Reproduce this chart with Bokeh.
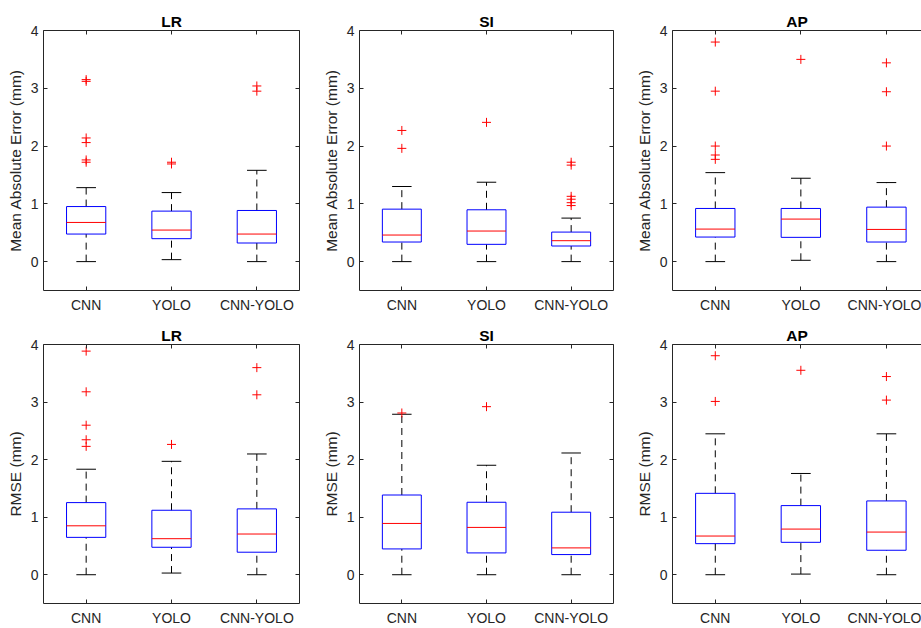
from bokeh.plotting import figure
from bokeh.layouts import column, row
from bokeh.models import FixedTicker, LinearAxis, Range1d, ColumnDataSource
from bokeh.embed import file_html
from bokeh.resources import INLINE

# ---------------- data ----------------
methods = ["CNN", "YOLO", "CNN-YOLO"]
views = ["LR", "SI", "AP"]
metric_labels = ["Mean Absolute Error (mm)", "RMSE (mm)"]
y_ticks = [0, 1, 2, 3, 4]

# Mean absolute error, rows = views (LR, SI, AP), columns = methods
mae_q1 = [[0.477, 0.397, 0.322], [0.339, 0.299, 0.270], [0.425, 0.420, 0.339]]
mae_med = [[0.678, 0.546, 0.477], [0.460, 0.529, 0.362], [0.563, 0.736, 0.557]]
mae_q3 = [[0.953, 0.874, 0.885], [0.908, 0.897, 0.511], [0.920, 0.920, 0.943]]
mae_lo = [[0.000, 0.034, 0.000], [0.000, 0.000, 0.000], [0.000, 0.023, 0.000]]
mae_hi = [[1.280, 1.195, 1.580], [1.300, 1.374, 0.753], [1.540, 1.443, 1.368]]
mae_out = [
    [[3.15, 3.12, 2.14, 2.06, 1.76, 1.72], [1.72, 1.69], [3.04, 2.95]],
    [[2.27, 1.96], [2.41], [1.72, 1.67, 1.13, 1.08, 1.02, 0.97]],
    [[3.80, 2.95, 2.00, 1.845, 1.77], [3.50], [3.44, 2.94, 2.00]],
]

# RMSE
rmse_q1 = [[0.649, 0.477, 0.391], [0.448, 0.379, 0.350], [0.540, 0.563, 0.425]]
rmse_med = [[0.850, 0.626, 0.707], [0.891, 0.822, 0.466], [0.672, 0.793, 0.741]]
rmse_q3 = [[1.253, 1.120, 1.144], [1.385, 1.259, 1.086], [1.414, 1.201, 1.282]]
rmse_lo = [[0.000, 0.029, 0.000], [0.000, 0.000, 0.000], [0.000, 0.011, 0.000]]
rmse_hi = [[1.833, 1.970, 2.098], [2.788, 1.902, 2.115], [2.448, 1.759, 2.448]]
rmse_out = [
    [[3.885, 3.178, 2.598, 2.345, 2.23], [2.264], [3.598, 3.126]],
    [[2.81], [2.92], []],
    [[3.805, 3.011], [3.552], [3.443, 3.034]],
]

metrics = [
    (mae_q1, mae_med, mae_q3, mae_lo, mae_hi, mae_out),
    (rmse_q1, rmse_med, rmse_q3, rmse_lo, rmse_hi, rmse_out),
]

# ---------------- layout / style ----------------
FONT = "Liberation Sans"
AX = "#262626"
BOX_W = 0.46
CAP_W = 0.23
positions = [1, 2, 3]

col_w = [302, 330, 289]
col_bl = [43, 57, 40]
col_br = [3, 19, 0]
col_xend = [3.5, 3.5, 3.41]
row_h = [316, 312]
row_bt = [30, 28]
row_bb = [26, 23]


def style_axis(ax, labels=True):
    ax.axis_line_color = AX
    ax.axis_line_width = 1
    ax.major_tick_line_color = AX
    ax.major_tick_in = 4
    ax.major_tick_out = 0
    ax.minor_tick_in = 0
    ax.minor_tick_out = 0
    ax.major_label_text_font = FONT
    ax.major_label_text_font_size = "14px"
    if labels:
        ax.major_label_text_color = AX
    else:
        ax.major_label_text_color = None
        ax.major_label_standoff = 0


def make_panel(ri, ci):
    q1, med, q3, lo, hi, out = metrics[ri]
    p = figure(
        width=col_w[ci], height=row_h[ri],
        x_range=Range1d(0.5, col_xend[ci]), y_range=Range1d(-0.5, 4),
        output_backend="svg", toolbar_location=None,
        min_border_left=col_bl[ci], min_border_right=col_br[ci],
        min_border_top=row_bt[ri], min_border_bottom=row_bb[ri],
    )
    p.outline_line_color = None
    p.grid.visible = False
    p.background_fill_color = "white"
    p.border_fill_color = "white"

    p.title.text = views[ci]
    p.title.align = "center"
    p.title.text_font = FONT
    p.title.text_font_style = "bold"
    p.title.text_font_size = "15.5px"
    p.title.text_color = "black"
    p.title.standoff = 1

    yax = p.yaxis[0]
    yax.ticker = FixedTicker(ticks=y_ticks)
    style_axis(yax)
    yax.major_label_standoff = 5
    yax.axis_label = metric_labels[ri]
    yax.axis_label_text_font = FONT
    yax.axis_label_text_font_style = "normal"
    yax.axis_label_text_font_size = "15.5px"
    yax.axis_label_text_color = AX
    yax.axis_label_standoff = 4

    xax = p.xaxis[0]
    xax.ticker = FixedTicker(ticks=positions)
    xax.major_label_overrides = {pos: m for pos, m in zip(positions, methods)}
    style_axis(xax)
    xax.major_label_standoff = 6

    top = LinearAxis(ticker=FixedTicker(ticks=positions))
    style_axis(top, labels=False)
    p.add_layout(top, "above")
    if ci < 2:
        right = LinearAxis(ticker=FixedTicker(ticks=y_ticks))
        style_axis(right, labels=False)
        p.add_layout(right, "right")

    src = ColumnDataSource(dict(
        x=positions,
        left=[x - BOX_W / 2 for x in positions],
        right=[x + BOX_W / 2 for x in positions],
        cl=[x - CAP_W / 2 for x in positions],
        cr=[x + CAP_W / 2 for x in positions],
        q1=q1[ci], med=med[ci], q3=q3[ci], lo=lo[ci], hi=hi[ci],
    ))
    # whiskers
    p.segment(x0="x", y0="q3", x1="x", y1="hi", source=src,
              line_color="black", line_width=1, line_dash="7 5")
    p.segment(x0="x", y0="lo", x1="x", y1="q1", source=src,
              line_color="black", line_width=1, line_dash="7 5")
    # caps
    p.segment(x0="cl", y0="hi", x1="cr", y1="hi", source=src,
              line_color="black", line_width=1)
    p.segment(x0="cl", y0="lo", x1="cr", y1="lo", source=src,
              line_color="black", line_width=1)
    # boxes
    p.quad(left="left", right="right", bottom="q1", top="q3", source=src,
           fill_color=None, line_color="#0000ff", line_width=1)
    # medians
    p.segment(x0="left", y0="med", x1="right", y1="med", source=src,
              line_color="#ff0000", line_width=1)
    # outliers
    ox, oy = [], []
    for pos, vals in zip(positions, out[ci]):
        for v in vals:
            ox.append(pos)
            oy.append(v)
    p.scatter(ox, oy, marker="cross", size=9, line_color="#ff0000",
              line_width=1)
    return p


rows = []
for ri in range(2):
    rows.append(row(*[make_panel(ri, ci) for ci in range(3)]))
layout = column(*rows)

open("out.html", "w").write(file_html(layout, INLINE))
